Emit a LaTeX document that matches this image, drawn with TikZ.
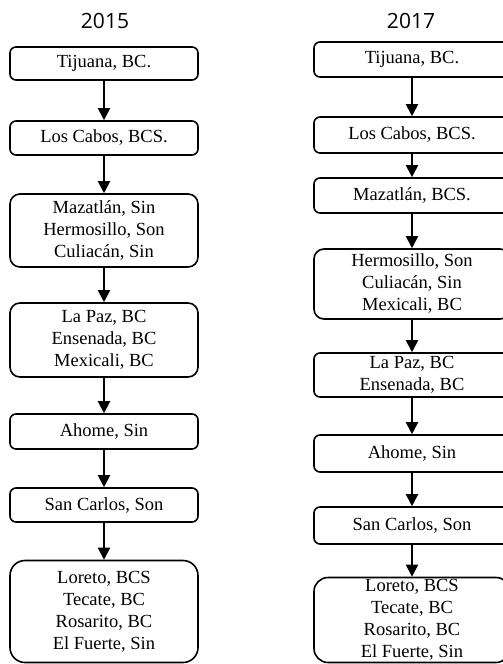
\documentclass[tikz,border=0pt]{standalone}
\usepackage{fontspec}
\setmainfont{Liberation Serif}
\newfontfamily\yearfont{Open Sans}
\usepackage{tikz}
\usetikzlibrary{arrows.meta,positioning}

\begin{document}
\begin{tikzpicture}[x=1pt,y=-1pt,>={Triangle[width=12pt,length=12pt]},
  every node/.style={font=\fontsize{18.5}{22}\selectfont},
  city/.style={draw=black, line width=1.6pt, rounded corners=6pt,
               align=center, inner sep=0pt},
  colA/.style={city, minimum width=188pt},
  colB/.style={city, minimum width=196pt},
  flow/.style={->, line width=2pt},
  year/.style={font=\yearfont\fontsize{21}{24}\selectfont}]
  \path[use as bounding box, clip] (0,0) rectangle (503,664);

  % 2015
  \node[year] (y15) at (105,21) {2015};
  \node[colA, minimum height=33pt] (a1) at (104,63.5) {Tijuana, BC.};
  \node[colA, minimum height=34pt] (a2) at (104,138) {Los Cabos, BCS.};
  \node[colA, minimum height=73pt, rounded corners=10pt] (a3) at (104,230.5)
    {Mazatlán, Sin\\ Hermosillo, Son\\ Culiacán, Sin};
  \node[colA, minimum height=74pt, rounded corners=10pt] (a4) at (104,340)
    {La Paz, BC\\ Ensenada, BC\\ Mexicali, BC};
  \node[colA, minimum height=35pt] (a5) at (104,431.5) {Ahome, Sin};
  \node[colA, minimum height=34pt] (a6) at (104,505) {San Carlos, Son};
  \node[colA, minimum height=102pt, rounded corners=15pt] (a7) at (104,611.5)
    {Loreto, BCS\\ Tecate, BC\\ Rosarito, BC\\ El Fuerte, Sin};

  \foreach \i/\j in {a1/a2,a2/a3,a3/a4,a4/a5,a5/a6,a6/a7}
    \draw[flow] (\i) -- (\j);

  % 2017
  \node[year] (y17) at (411,21) {2017};
  \node[colB, minimum height=35pt] (b1) at (412,59.5) {Tijuana, BC.};
  \node[colB, minimum height=36pt] (b2) at (412,135) {Los Cabos, BCS.};
  \node[colB, minimum height=35pt] (b3) at (412,195.5) {Mazatlán, BCS.};
  \node[colB, minimum height=70pt, rounded corners=10pt] (b4) at (412,284)
    {Hermosillo, Son\\ Culiacán, Sin\\ Mexicali, BC};
  \node[colB, minimum height=44pt] (b5) at (412,375) {La Paz, BC\\ Ensenada, BC};
  \node[colB, minimum height=37pt] (b6) at (412,453.5) {Ahome, Sin};
  \node[colB, minimum height=37pt] (b7) at (412,525.5) {San Carlos, Son};
  \node[colB, minimum height=85pt, rounded corners=14pt] (b8) at (412,620)
    {Loreto, BCS\\ Tecate, BC\\ Rosarito, BC\\ El Fuerte, Sin};

  \foreach \i/\j in {b1/b2,b2/b3,b3/b4,b4/b5,b5/b6,b6/b7,b7/b8}
    \draw[flow] (\i) -- (\j);
\end{tikzpicture}
\end{document}
